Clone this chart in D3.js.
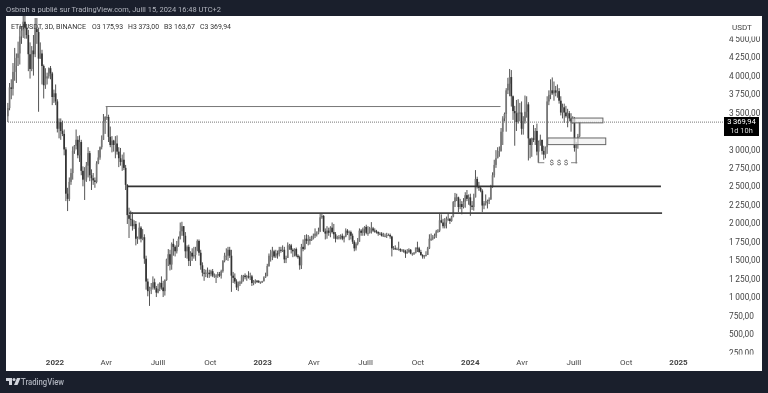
<!DOCTYPE html>
<html>
<head>
<meta charset="utf-8">
<script src="https://cdn.jsdelivr.net/npm/d3@7"></script>
<style>
    html, body { margin: 0; padding: 0; background: #1a1f2c; }
    svg { display: block; filter: blur(0.4px); }
    text { font-family: Roboto, sans-serif; }
</style>
</head>
<body>
<svg id="chart" width="768" height="393"></svg>
<script>
// ETHUSDT 3D candles
const firstCandle = new Date(2021, 9, 11);
const candleDays = 3;
const firstOpen = 3450;

const closes = [
    3560,3840,3820,4050,4130,4240,4300,4530,4610,4730,
    4650,4550,4290,4090,4340,4290,4630,4590,4230,4300,
    4130,3870,3960,3990,4100,4030,3710,3760,3650,3280,
    3370,3250,3210,3000,2400,2330,2560,2680,2980,3050,
    3130,2920,3100,2710,2590,2590,2780,2950,2650,2610,
    2580,2560,2810,2890,3030,3130,3380,3440,3440,3170,
    3060,3120,3060,3080,2970,2880,2830,2860,2750,2520,
    2110,2060,2050,1960,1990,1790,1800,1940,1790,1810,
    1520,1210,1080,1130,1130,1200,1120,1060,1110,1190,
    1130,1080,1230,1510,1580,1440,1720,1680,1620,1700,
    1790,1890,1960,1830,1620,1680,1490,1600,1550,1570,
    1630,1760,1600,1430,1330,1320,1330,1330,1310,1350,
    1290,1290,1290,1310,1290,1350,1490,1560,1560,1640,
    1560,1290,1260,1210,1130,1180,1200,1280,1290,1270,
    1280,1270,1280,1190,1210,1220,1215,1200,1200,1215,
    1265,1285,1420,1560,1560,1620,1550,1590,1585,1640,
    1630,1640,1510,1530,1700,1700,1640,1620,1650,1560,
    1540,1430,1680,1650,1790,1760,1780,1770,1790,1830,
    1860,1860,1890,2080,2100,1890,1860,1900,1870,1940,
    1880,1850,1790,1810,1810,1830,1790,1820,1900,1870,
    1880,1830,1750,1660,1720,1750,1900,1870,1920,1950,
    1870,1870,1930,1930,1900,1890,1880,1860,1860,1830,
    1830,1830,1840,1840,1820,1660,1660,1650,1650,1650,
    1630,1630,1620,1590,1610,1640,1590,1590,1600,1670,
    1660,1610,1570,1550,1560,1570,1660,1790,1790,1810,
    1830,1890,1900,2040,2010,1960,2010,2060,2060,2030,
    2090,2290,2350,2350,2220,2260,2220,2290,2380,2330,
    2350,2240,2220,2350,2600,2500,2480,2440,2240,2270,
    2300,2300,2320,2490,2650,2790,2880,2970,2980,3240,
    3420,3480,3800,3890,3980,3720,3520,3490,3370,3500,
    3500,3280,3380,3510,3610,3150,3060,3150,3130,3250,
    2970,3100,3130,2980,2930,3030,3650,3740,3800,3760,
    3800,3770,3790,3660,3500,3570,3500,3450,3490,3420,
    3380,3420,3020,3060,3175.93,3369.94
];

const highs = [
    3630,3900,3950,4170,4375,4300,4460,4670,4670,4840,
    4868,4700,4620,4450,4400,4550,4780,4780,4650,4450,
    4350,4150,4100,4040,4110,4130,4050,3810,3880,3680,
    3420,3420,3390,3270,3030,2480,2620,2740,3040,3060,
    3270,3180,3190,3130,2770,2760,2830,3030,2980,2730,
    2680,2620,2840,2990,3040,3190,3480,3450,3580,3470,
    3310,3180,3130,3180,3190,3030,3020,2930,2960,2790,
    2530,2210,2170,2150,2040,2030,1820,2010,1960,1920,
    1850,1560,1250,1140,1190,1280,1250,1150,1180,1200,
    1280,1220,1240,1520,1650,1640,1740,1790,1700,1760,
    1820,2010,2020,1960,1880,1700,1710,1620,1660,1680,
    1680,1780,1780,1640,1470,1380,1370,1400,1370,1370,
    1380,1320,1310,1340,1340,1370,1500,1600,1660,1680,
    1680,1640,1340,1320,1240,1210,1220,1300,1300,1320,
    1300,1350,1330,1300,1230,1240,1230,1230,1210,1220,
    1280,1330,1450,1590,1640,1680,1640,1640,1630,1680,
    1680,1700,1680,1560,1740,1720,1720,1660,1660,1670,
    1580,1560,1720,1780,1840,1850,1840,1820,1830,1860,
    1930,1890,1940,2125,2130,2110,1930,1960,1940,1960,
    2010,1990,1880,1830,1840,1850,1860,1830,1930,1920,
    1900,1900,1860,1770,1740,1800,1930,1920,1940,1960,
    1980,1960,1950,2015,1950,1930,1910,1890,1880,1880,
    1870,1860,1870,1860,1860,1830,1690,1700,1670,1750,
    1660,1650,1650,1640,1650,1660,1650,1600,1610,1670,
    1750,1680,1640,1580,1570,1620,1680,1850,1860,1840,
    1860,1910,1920,2140,2120,2060,2070,2090,2130,2070,
    2100,2300,2410,2400,2360,2330,2300,2340,2420,2450,
    2390,2400,2300,2400,2720,2630,2560,2500,2460,2300,
    2390,2320,2350,2520,2690,2860,2990,3030,3040,3290,
    3450,3500,3830,3970,4090,4075,3730,3590,3670,3680,
    3630,3650,3450,3730,3720,3640,3130,3160,3330,3290,
    3350,3120,3200,3130,3050,3040,3720,3800,3950,3975,
    3920,3860,3880,3830,3720,3620,3620,3590,3550,3520,
    3490,3450,3440,3100,3210,3373
];

const lows = [
    3370,3530,3680,3730,3930,3900,4130,4150,4430,4510,
    4500,4500,4060,3960,4060,4000,4250,4430,3510,4230,
    3880,3690,3820,3880,3960,3950,3600,3630,3600,3230,
    3150,3130,3180,2920,2300,2165,2300,2520,2590,2940,
    3000,2880,2830,2650,2500,2315,2560,2620,2570,2450,
    2520,2480,2540,2800,2860,3000,3130,3210,3400,3100,
    3030,2960,2970,2880,2930,2760,2780,2710,2720,2450,
    1990,1800,1960,1900,1920,1700,1720,1780,1740,1770,
    1450,1100,1010,880,1040,1100,1100,1000,1050,1080,
    1100,1000,1020,1220,1420,1360,1370,1560,1550,1590,
    1680,1780,1830,1740,1530,1520,1420,1420,1490,1520,
    1490,1620,1560,1370,1280,1220,1270,1260,1260,1280,
    1270,1260,1190,1260,1270,1250,1330,1470,1500,1490,
    1530,1070,1190,1180,1095,1080,1150,1180,1210,1240,
    1220,1250,1230,1150,1160,1180,1190,1190,1180,1190,
    1210,1260,1280,1410,1480,1500,1530,1530,1520,1550,
    1600,1610,1460,1460,1530,1640,1590,1540,1550,1540,
    1520,1370,1380,1620,1640,1720,1700,1710,1760,1780,
    1800,1820,1850,1880,2060,1880,1780,1790,1830,1810,
    1860,1790,1740,1780,1780,1780,1770,1740,1810,1840,
    1770,1780,1720,1620,1630,1700,1750,1830,1830,1830,
    1850,1830,1860,1860,1880,1870,1860,1830,1840,1820,
    1820,1810,1800,1830,1790,1550,1640,1640,1640,1630,
    1610,1620,1600,1530,1590,1600,1580,1560,1570,1590,
    1610,1600,1560,1520,1520,1550,1570,1650,1760,1770,
    1790,1800,1870,1880,2000,1930,1930,1930,2030,1990,
    2020,2080,2220,2300,2150,2190,2120,2200,2210,2300,
    2250,2100,2180,2170,2350,2470,2440,2420,2150,2190,
    2240,2200,2260,2320,2480,2620,2750,2880,2900,2970,
    3060,3380,3240,3750,3720,3580,3400,3050,3250,3350,
    3380,3200,3200,3350,3430,2850,2880,2900,3100,3060,
    2920,2820,3050,2930,2860,2880,2940,3600,3680,3740,
    3660,3720,3700,3620,3460,3420,3360,3430,3300,3380,
    3240,3350,2970,2810,3010,3163.67
];

// 3250 is hidden behind the last price tag
const priceTicks = [250, 500, 750, 1000, 1250, 1500, 1750, 2000, 2250, 2500, 2750, 3000, 3500, 3750, 4000, 4250, 4500];
const timeTicks = [
    new Date(2022, 0, 1), new Date(2022, 3, 1), new Date(2022, 6, 1), new Date(2022, 9, 1),
    new Date(2023, 0, 1), new Date(2023, 3, 1), new Date(2023, 6, 1), new Date(2023, 9, 1),
    new Date(2024, 0, 1), new Date(2024, 3, 1), new Date(2024, 6, 1), new Date(2024, 9, 1),
    new Date(2025, 0, 1)
];
const timeLabels = ["2022", "Avr", "Juill", "Oct", "2023", "Avr", "Juill", "Oct", "2024", "Avr", "Juill", "Oct", "2025"];

const legendLabels = ["ETHUSDT, 3D, BINANCE", "O3 175,93", "H3 373,00", "B3 163,67", "C3 369,94"];
const legendX = [11, 92, 128, 164, 200];
const legendWidth = [75, 31, 31, 31, 31];

// drawn levels
const levels = [
    {from: new Date(2022, 3, 1), to: new Date(2024, 1, 24), price: 3581, stroke: "#777", width: 1},
    {from: new Date(2022, 4, 9), to: new Date(2024, 11, 2), price: 2500, stroke: "#333", width: 1.7},
    {from: new Date(2022, 4, 12), to: new Date(2024, 11, 4), price: 2138, stroke: "#444", width: 1.7}
];
const zones = [
    {from: new Date(2024, 5, 28), to: new Date(2024, 7, 22), top: 3425, bottom: 3360},
    {from: new Date(2024, 4, 17), to: new Date(2024, 7, 27), top: 3155, bottom: 3065}
];
const lastPrice = 3369.94;

const svg = d3.select("#chart");

// panel
const panel = {left: 6, right: 762, top: 16, bottom: 371};
svg.append("rect")
    .attr("x", panel.left)
    .attr("y", panel.top)
    .attr("width", panel.right - panel.left)
    .attr("height", panel.bottom - panel.top)
    .style("fill", "#fff");

const x = d3.scaleTime()
    .domain([new Date(2022, 0, 1), new Date(2025, 0, 1)])
    .range([54.5, 678]);
const y = d3.scaleLinear()
    .domain([250, 4500])
    .range([352.4, 38.7]);

const defs = svg.append("defs");
defs.append("clipPath").attr("id", "plotClip").append("rect")
    .attr("x", panel.left + 1)
    .attr("y", panel.top)
    .attr("width", 718)
    .attr("height", panel.bottom - panel.top);
defs.append("clipPath").attr("id", "scaleClip").append("rect")
    .attr("x", 724)
    .attr("y", 36.5)
    .attr("width", 38)
    .attr("height", 318);

// header
svg.append("text")
    .attr("x", 6)
    .attr("y", 12)
    .attr("textLength", 215)
    .attr("lengthAdjust", "spacingAndGlyphs")
    .text("Osbrah a publié sur TradingView.com, Juill 15, 2024 16:48 UTC+2")
    .style("fill", "#b2b5be")
    .style("font-size", "8px");

const plot = svg.append("g").attr("clip-path", "url(#plotClip)");

// last price line
plot.append("line")
    .attr("x1", panel.left)
    .attr("x2", 724)
    .attr("y1", y(lastPrice))
    .attr("y2", y(lastPrice))
    .style("stroke", "#777")
    .style("stroke-width", 1)
    .style("stroke-dasharray", "1,1");

// candles
const candles = closes.map(function (close, i) {
    return {
        date: d3.timeDay.offset(firstCandle, i * candleDays),
        open: i === 0 ? firstOpen : closes[i - 1],
        high: highs[i],
        low: lows[i],
        close: close
    };
});

const candle = plot.append("g")
    .selectAll("g")
    .data(candles)
    .enter().append("g")
    .attr("transform", function (d) {
        return "translate(" + x(d.date) + ",0)";
    });

candle.append("line")
    .attr("y1", function (d) {
        return y(d.high);
    })
    .attr("y2", function (d) {
        return y(d.low);
    })
    .style("stroke", "#555")
    .style("stroke-width", 1);

candle.append("rect")
    .attr("x", -0.85)
    .attr("width", 1.7)
    .attr("y", function (d) {
        return y(Math.max(d.open, d.close));
    })
    .attr("height", function (d) {
        return Math.max(1, Math.abs(y(d.open) - y(d.close)));
    })
    .style("fill", function (d) {
        return d.close >= d.open ? "#777" : "#333";
    });

// levels
plot.append("g")
    .selectAll("line")
    .data(levels)
    .enter().append("line")
    .attr("x1", function (d) {
        return x(d.from);
    })
    .attr("x2", function (d) {
        return x(d.to);
    })
    .attr("y1", function (d) {
        return y(d.price);
    })
    .attr("y2", function (d) {
        return y(d.price);
    })
    .style("stroke", function (d) {
        return d.stroke;
    })
    .style("stroke-width", function (d) {
        return d.width;
    });

// zones
plot.append("g")
    .selectAll("rect")
    .data(zones)
    .enter().append("rect")
    .attr("x", function (d) {
        return x(d.from);
    })
    .attr("width", function (d) {
        return x(d.to) - x(d.from);
    })
    .attr("y", function (d) {
        return y(d.top);
    })
    .attr("height", function (d) {
        return y(d.bottom) - y(d.top);
    })
    .style("fill", "#efefef")
    .style("fill-opacity", 0.7)
    .style("stroke", "#666")
    .style("stroke-width", 1);

// liquidity marks under the lows
const liquidityY = y(2820);
const liquidityLine = d3.line();
plot.append("path")
    .attr("d", liquidityLine([[x(new Date(2024, 3, 30)), y(2980)], [x(new Date(2024, 3, 30)), liquidityY], [x(new Date(2024, 4, 11)), liquidityY]]))
    .style("fill", "none")
    .style("stroke", "#777")
    .style("stroke-width", 0.9);
plot.append("path")
    .attr("d", liquidityLine([[x(new Date(2024, 5, 27)), liquidityY], [x(new Date(2024, 6, 8)), liquidityY]]))
    .style("fill", "none")
    .style("stroke", "#777")
    .style("stroke-width", 0.9);
plot.append("text")
    .attr("x", x(new Date(2024, 5, 6)))
    .attr("y", liquidityY + 2)
    .attr("text-anchor", "middle")
    .text("$ $ $")
    .style("fill", "#555")
    .style("font-size", "8px")
    .style("letter-spacing", "0.3px");

// legend over the candles
svg.append("g")
    .selectAll("text")
    .data(legendLabels)
    .enter().append("text")
    .attr("x", function (d, i) {
        return legendX[i];
    })
    .attr("y", 29)
    .attr("textLength", function (d, i) {
        return legendWidth[i];
    })
    .attr("lengthAdjust", "spacingAndGlyphs")
    .text(function (d) {
        return d;
    })
    .style("fill", "#333")
    .style("font-size", "7.8px");

// time axis
const timeAxis = d3.axisBottom(x)
    .tickValues(timeTicks)
    .tickSize(0)
    .tickFormat(function (d, i) {
        return timeLabels[i];
    });
const timeG = svg.append("g")
    .attr("transform", "translate(0,356.5)")
    .call(timeAxis);
timeG.select(".domain").remove();
timeG.selectAll("text")
    .style("fill", "#444")
    .style("font-family", "Roboto, sans-serif")
    .style("font-size", "8px")
    .style("font-weight", function (d, i) {
        return +timeLabels[i] ? "bold" : "normal";
    });

// price axis
const priceFormat = d3.formatLocale({decimal: ",", thousands: "\u2009", grouping: [3], currency: ["", ""]}).format(",.2f");
const priceAxis = d3.axisRight(y)
    .tickValues(priceTicks)
    .tickSize(0)
    .tickPadding(0)
    .tickFormat(priceFormat);
const priceG = svg.append("g")
    .attr("clip-path", "url(#scaleClip)")
    .append("g")
    .attr("transform", "translate(729,0)")
    .call(priceAxis);
priceG.select(".domain").remove();
priceG.selectAll("text")
    .style("fill", "#444")
    .style("font-family", "Roboto, sans-serif")
    .style("font-size", "8.3px");

svg.append("text")
    .attr("x", 732)
    .attr("y", 30)
    .text("USDT")
    .style("fill", "#444")
    .style("font-size", "8px");

// last price tag
svg.append("rect")
    .attr("x", 724)
    .attr("y", 117)
    .attr("width", 35)
    .attr("height", 19)
    .style("fill", "#000");
svg.append("text")
    .attr("x", 741.5)
    .attr("y", y(lastPrice) + 2.2)
    .attr("text-anchor", "middle")
    .text(priceFormat(lastPrice))
    .style("fill", "#fff")
    .style("font-size", "7.6px");
svg.append("text")
    .attr("x", 741.5)
    .attr("y", 133.2)
    .attr("text-anchor", "middle")
    .text("1d 10h")
    .style("fill", "#ddd")
    .style("font-size", "7.4px");

// footer logo
const logo = svg.append("g")
    .attr("transform", "translate(6,378)")
    .style("fill", "#d1d4dc");
logo.append("path").attr("d", "M0 0H6V7H3V3H0Z");
logo.append("circle").attr("cx", 8).attr("cy", 1.6).attr("r", 1.5);
logo.append("path").attr("d", "M11 0H14.5L11.5 7H8Z");
svg.append("text")
    .attr("x", 21)
    .attr("y", 385)
    .attr("textLength", 43)
    .attr("lengthAdjust", "spacingAndGlyphs")
    .text("TradingView")
    .style("fill", "#aeb2bc")
    .style("font-size", "8.6px")
    .style("font-weight", "500");
</script>
</body>
</html>
